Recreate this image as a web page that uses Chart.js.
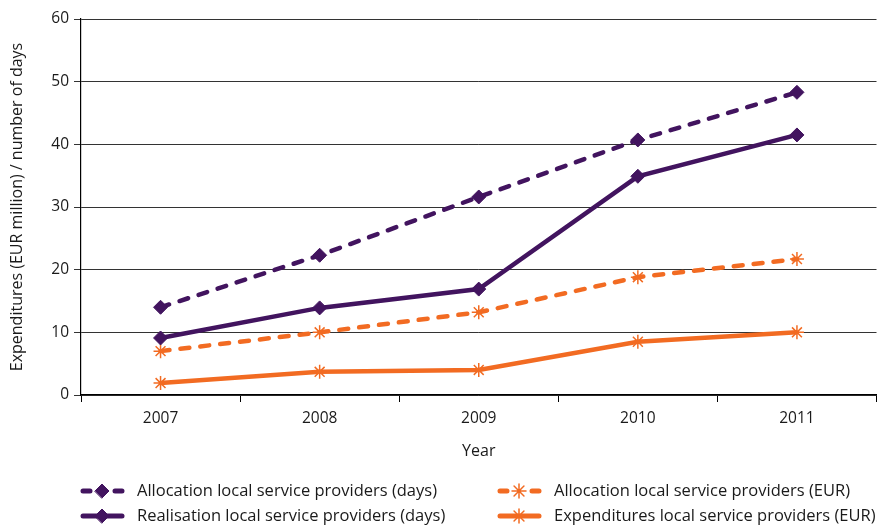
<!DOCTYPE html>
<html lang="en">
<head>
<meta charset="UTF-8" />
<title>Local service providers 2007-2011</title>
<script src="https://cdn.jsdelivr.net/npm/chart.js"></script>
<style>
  html, body { margin: 0; padding: 0; background: #fff; overflow: hidden; }
  .chart-container { width: 885px; height: 525px; }
</style>
</head>
<body>
<div class="chart-container">
  <canvas id="chartProviders"></canvas>
</div>

<script>
const years = ["2007", "2008", "2009", "2010", "2011"];
const allocationDays = [14.0, 22.3, 31.6, 40.7, 48.3];
const realisationDays = [9.1, 13.9, 16.9, 34.9, 41.5];
const allocationEur = [7.0, 10.0, 13.2, 18.8, 21.7];
const expendituresEur = [1.9, 3.7, 4.0, 8.5, 10.0];
const yTicks = [0, 10, 20, 30, 40, 50, 60];

const purple = "#42145f";
const orange = "#f26b22";
const font = "'Open Sans', Lato, sans-serif";

// legend drawn in two columns under the axis
const legendPlugin = {
  id: "twoColLegend",
  afterDraw(chart) {
    const ctx = chart.ctx;
    const cols = [80, 497];
    const rows = [491, 516];
    chart.data.datasets.forEach((ds, i) => {
      const x = cols[Math.floor(i / 2)];
      const y = rows[i % 2];
      ctx.save();
      ctx.strokeStyle = ds.borderColor;
      ctx.lineWidth = 5;
      ctx.lineCap = "round";
      ctx.beginPath();
      if (ds.borderDash && ds.borderDash.length) {
        ctx.moveTo(x + 3, y); ctx.lineTo(x + 10, y);
        ctx.moveTo(x + 35, y); ctx.lineTo(x + 42, y);
      } else {
        ctx.moveTo(x + 3, y); ctx.lineTo(x + 42, y);
      }
      ctx.stroke();
      ctx.fillStyle = ds.backgroundColor;
      ctx.lineWidth = ds.pointBorderWidth;
      Chart.helpers.drawPoint(ctx, {
        pointStyle: ds.pointStyle,
        radius: 7,
        borderWidth: ds.pointBorderWidth
      }, x + 22, y);
      ctx.fillStyle = "#1a1a1a";
      ctx.font = "16.5px " + font;
      ctx.textBaseline = "middle";
      ctx.fillText(ds.label, x + 57, y);
      ctx.restore();
    });
  }
};

const ctx = document.getElementById("chartProviders").getContext("2d");
new Chart(ctx, {
  type: "line",
  data: {
    labels: years,
    datasets: [
      {
        label: "Allocation local service providers (days)",
        data: allocationDays,
        borderColor: purple,
        backgroundColor: purple,
        borderWidth: 4.5,
        borderDash: [9, 11],
        borderCapStyle: "round",
        pointStyle: "rectRot",
        pointRadius: 7,
        pointBorderWidth: 1
      },
      {
        label: "Realisation local service providers (days)",
        data: realisationDays,
        borderColor: purple,
        backgroundColor: purple,
        borderWidth: 4.5,
        pointStyle: "rectRot",
        pointRadius: 7,
        pointBorderWidth: 1
      },
      {
        label: "Allocation local service providers (EUR)",
        data: allocationEur,
        borderColor: orange,
        backgroundColor: orange,
        borderWidth: 4.5,
        borderDash: [9, 11],
        borderCapStyle: "round",
        pointStyle: "star",
        pointRadius: 7,
        pointBorderWidth: 1.5
      },
      {
        label: "Expenditures local service providers (EUR)",
        data: expendituresEur,
        borderColor: orange,
        backgroundColor: orange,
        borderWidth: 4.5,
        pointStyle: "star",
        pointRadius: 7,
        pointBorderWidth: 1.5
      }
    ]
  },
  options: {
    responsive: true,
    maintainAspectRatio: false,
    animation: false,
    layout: { padding: { top: 19, right: 2, left: 0, bottom: 60 } },
    plugins: {
      legend: { display: false },
      tooltip: { enabled: false }
    },
    elements: { line: { tension: 0 } },
    scales: {
      x: {
        offset: true,
        afterFit: s => { s.height = 70; },
        border: { color: "#000", width: 1.2 },
        grid: { drawOnChartArea: false, offset: true, tickLength: 7, color: "#000" },
        ticks: { color: "#1a1a1a", padding: 7, font: { family: font, size: 15.5 } },
        title: {
          display: true,
          text: "Year",
          color: "#1a1a1a",
          padding: { top: 4, bottom: 4 },
          font: { family: font, size: 16 }
        }
      },
      y: {
        min: 0,
        max: 60,
        afterFit: s => { s.width = 81; },
        afterBuildTicks: s => { s.ticks = yTicks.map(v => ({ value: v })); },
        border: { color: "#000", width: 1.2 },
        grid: { color: "#333", lineWidth: 1, tickLength: 7 },
        ticks: { color: "#1a1a1a", padding: 5, font: { family: font, size: 15.5 } },
        title: {
          display: true,
          text: "Expenditures (EUR million) / number of days",
          color: "#1a1a1a",
          padding: { top: 8, bottom: 0 },
          font: { family: font, size: 16 }
        }
      }
    }
  },
  plugins: [legendPlugin]
});
</script>
</body>
</html>
